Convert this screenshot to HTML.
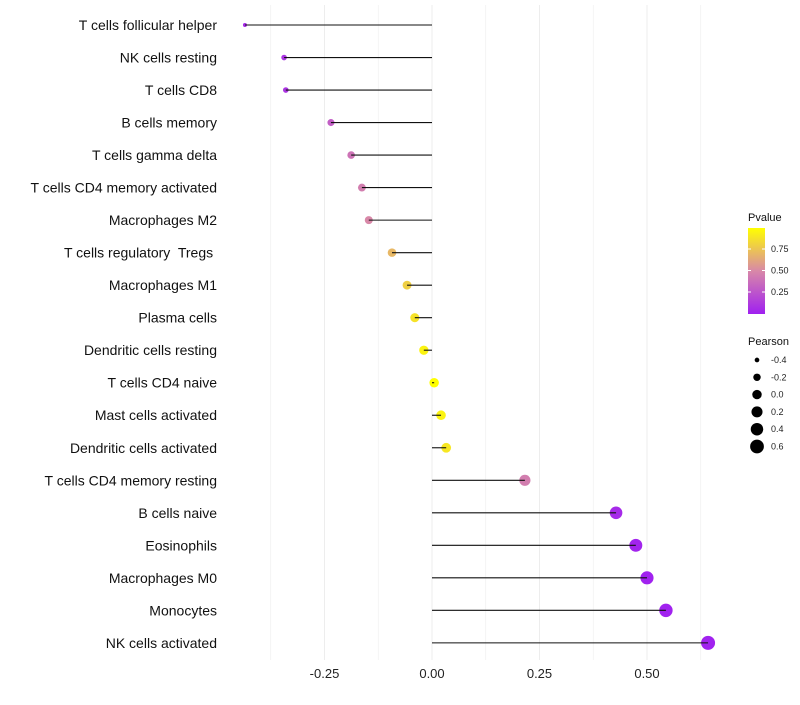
<!DOCTYPE html>
<html><head><meta charset="utf-8"><style>
body{margin:0;background:#fff;font-family:"Liberation Sans",sans-serif}
text{white-space:pre}
</style></head><body>
<svg id="c" width="800" height="700">
<defs><linearGradient id="pg" x1="0" y1="1" x2="0" y2="0">
<stop offset="0" stop-color="#a020f0"/><stop offset="0.5" stop-color="#d888a8"/><stop offset="1" stop-color="#ffff00"/></linearGradient></defs>
<g id="grid"></g><g id="marks"></g><g id="legend"></g>
</svg>
<script>
const cells=["T cells follicular helper","NK cells resting","T cells CD8","B cells memory","T cells gamma delta","T cells CD4 memory activated","Macrophages M2","T cells regulatory  Tregs ","Macrophages M1","Plasma cells","Dendritic cells resting","T cells CD4 naive","Mast cells activated","Dendritic cells activated","T cells CD4 memory resting","B cells naive","Eosinophils","Macrophages M0","Monocytes","NK cells activated"];
const pearson=[-0.435,-0.344,-0.34,-0.235,-0.188,-0.163,-0.147,-0.093,-0.058,-0.04,-0.019,0.005,0.021,0.033,0.216,0.428,0.474,0.5,0.544,0.642];
const pvalue=[0.05,0.1,0.1,0.3,0.4,0.45,0.5,0.7,0.8,0.88,0.95,1.0,0.95,0.9,0.45,0.05,0.02,0.01,0.01,0.01];
const xTicks=[-0.25,0,0.25,0.5];
const xTickLabels=["-0.25","0.00","0.25","0.50"];
const legendP=[-0.4,-0.2,0.0,0.2,0.4,0.6];
const legendPLabels=["-0.4","-0.2","0.0","0.2","0.4","0.6"];
const legendCol=[0.25,0.5,0.75];

const NS="http://www.w3.org/2000/svg";
const X=v=>432+v*430;
const Y=i=>25+i*32.52;
const R=v=>Math.sqrt(Math.max(3,22.2+41.8*v));
function lerp(a,b,t){return a.map((x,i)=>Math.round(x+(b[i]-x)*t));}
function col(p){const s=[[160,32,240],[216,136,168],[255,255,0]];const c=p<0.5?lerp(s[0],s[1],p/0.5):lerp(s[1],s[2],(p-0.5)/0.5);return `rgb(${c})`;}
function mk(tag,at,parent){const e=document.createElementNS(NS,tag);for(const k in at)e.setAttribute(k,at[k]);parent.appendChild(e);return e;}
const grid=document.getElementById('grid'),marks=document.getElementById('marks'),leg=document.getElementById('legend');
for(let v=-0.375;v<=0.63;v+=0.125){const l=mk('line',{x1:X(v),x2:X(v),y1:5,y2:660,stroke:'#ededed','stroke-width':Math.abs(v*8%2)<0.01?1:0.6},grid);

}
xTicks.forEach((v,i)=>{const t=mk('text',{x:X(v),y:678,'text-anchor':'middle','font-size':13,fill:'#222'},grid);t.textContent=xTickLabels[i];

});
cells.forEach((n,i)=>{
const t=mk('text',{x:217,y:Y(i)+5,'text-anchor':'end','font-size':14,fill:'#111'},marks);t.textContent=n;


const c=mk('circle',{cx:X(pearson[i]),cy:Y(i),r:R(pearson[i]),fill:col(pvalue[i])},marks);


const s=mk('line',{x1:X(0),x2:X(pearson[i]),y1:Y(i),y2:Y(i),stroke:'#111','stroke-width':1.1},marks);


});
let t=mk('text',{x:748,y:221,'font-size':11,fill:'#111'},leg);t.textContent='Pvalue';


const bar=mk('rect',{x:748,y:228,width:17,height:86,fill:'url(#pg)'},leg);


legendCol.forEach(p=>{const y=313.5-p*86;
mk('line',{x1:748,x2:751,y1:y,y2:y,stroke:'#fff'},leg);mk('line',{x1:762,x2:765,y1:y,y2:y,stroke:'#fff'},leg);
const l=mk('text',{x:771,y:y+3,'font-size':9,fill:'#222'},leg);l.textContent=p.toFixed(2);

});
t=mk('text',{x:748,y:345,'font-size':11,fill:'#111'},leg);t.textContent='Pearson';


legendP.forEach((v,i)=>{const y=360+i*17.3;
const c=mk('circle',{cx:757,cy:y,r:R(v),fill:'#000'},leg);


const l=mk('text',{x:771,y:y+3,'font-size':9,fill:'#222'},leg);l.textContent=legendPLabels[i];

});
</script>
</body></html>
